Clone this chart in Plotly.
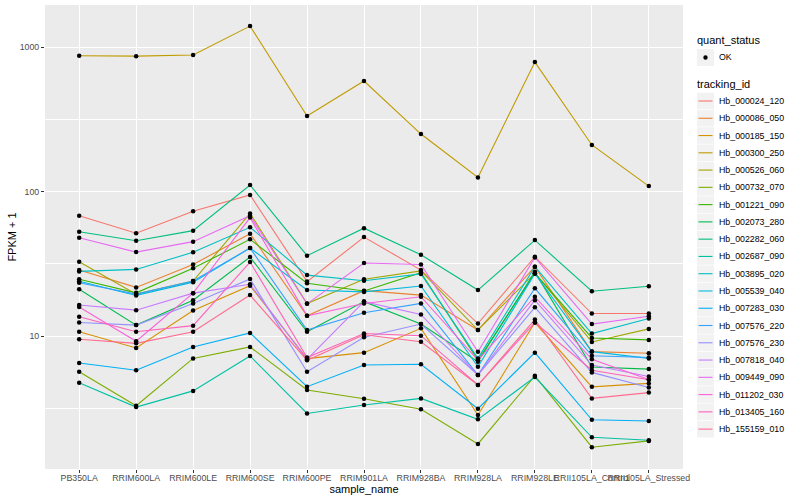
import plotly.graph_objects as go

samples = ["PB350LA", "RRIM600LA", "RRIM600LE", "RRIM600SE", "RRIM600PE", "RRIM901LA",
           "RRIM928BA", "RRIM928LA", "RRIM928LE", "RRII105LA_Control", "RRII105LA_Stressed"]

tracking_ids = ["Hb_000024_120", "Hb_000086_050", "Hb_000185_150", "Hb_000300_250", "Hb_000526_060",
                "Hb_000732_070", "Hb_001221_090", "Hb_002073_280", "Hb_002282_060", "Hb_002687_090",
                "Hb_003895_020", "Hb_005539_040", "Hb_007283_030", "Hb_007576_220", "Hb_007576_230",
                "Hb_007818_040", "Hb_009449_090", "Hb_011202_030", "Hb_013405_160", "Hb_155159_010"]

colors = ["#F8766D", "#EA8331", "#D89000", "#C09B00", "#A3A500", "#7CAE00", "#39B600", "#00BB4E",
          "#00BF7D", "#00C1A3", "#00BFC4", "#00BAE0", "#00B0F6", "#35A2FF", "#9590FF", "#C77CFF",
          "#E76BF3", "#FA62DB", "#FF62BC", "#FF6C91"]

quant_status = ["OK"]

# FPKM + 1 values per tracking id, one value per sample
fpkm = [
    [68.0, 51.4, 73.0, 94.7, 23.8, 48.4, 28.6, 12.2, 35.4, 14.3, 14.3],      # 000024_120
    [28.6, 21.7, 31.3, 51.0, 13.8, 20.6, 19.2, 11.0, 30.2, 7.8, 7.6],        # 000086_050
    [10.7, 8.26, 15.0, 22.3, 6.97, 7.67, 11.3, 2.84, 12.4, 4.45, 4.7],       # 000185_150
    [871, 865, 880, 1396, 333, 582, 250, 125, 787, 210, 109],                # 000300_250
    [32.7, 19.5, 24.0, 70.6, 16.8, 24.7, 28.2, 11.0, 27.2, 9.1, 11.2],       # 000526_060
    [5.66, 3.29, 7.0, 8.4, 4.23, 3.68, 3.11, 1.79, 5.3, 1.70, 1.88],         # 000732_070
    [24.7, 19.9, 29.4, 46.7, 23.2, 20.5, 27.4, 6.8, 27.2, 9.7, 9.4],         # 001221_090
    [21.1, 11.9, 17.7, 35.2, 10.7, 17.3, 12.1, 6.64, 27.8, 6.1, 5.9],        # 002073_280
    [52.7, 45.6, 53.6, 111, 36.0, 55.8, 36.5, 20.8, 46.1, 20.4, 22.1],       # 002282_060
    [4.75, 3.22, 4.17, 7.28, 2.91, 3.33, 3.70, 2.65, 5.2, 1.99, 1.90],       # 002687_090
    [28.0, 28.9, 38.0, 56.5, 26.4, 24.1, 26.9, 7.0, 30.2, 10.4, 13.2],       # 003895_020
    [23.9, 19.1, 23.6, 40.6, 20.8, 20.2, 22.2, 6.13, 27.0, 7.8, 7.0],        # 005539_040
    [6.5, 5.8, 8.4, 10.5, 4.46, 6.3, 6.37, 3.14, 7.67, 2.63, 2.58],          # 007283_030
    [23.4, 19.5, 24.0, 40.6, 11.0, 14.5, 16.8, 5.37, 21.4, 7.3, 7.1],        # 007576_220
    [12.4, 11.9, 16.8, 24.8, 5.66, 9.8, 12.1, 5.37, 15.8, 5.6, 4.4],         # 007576_230
    [16.4, 15.1, 19.8, 22.8, 6.9, 17.3, 14.1, 5.37, 17.7, 6.3, 5.25],        # 007818_040
    [47.9, 38.1, 45.0, 68.0, 16.7, 32.0, 31.3, 7.79, 35.0, 12.1, 13.7],      # 009449_090
    [15.9, 9.2, 19.8, 66.0, 13.8, 16.8, 18.7, 6.8, 18.7, 6.9, 5.0],          # 011202_030
    [13.6, 10.7, 11.8, 32.5, 7.1, 10.4, 10.05, 4.58, 12.4, 5.8, 4.98],       # 013405_160
    [9.5, 8.9, 10.7, 19.2, 6.8, 10.2, 9.13, 4.58, 13.0, 3.7, 4.06],          # 155159_010
]

yticks = [10, 100, 1000]
yminor = [3.1623, 31.623, 316.23]

W, H = 800, 500
ML, MR, MT, MB = 45, 117, 5, 31
PW, PH = W - ML - MR, H - MT - MB


def px_x(px):
    return (px - ML) / PW


def px_y(py):
    return (H - MB - py) / PH


fig = go.Figure()

for tid, col, vals in zip(tracking_ids, colors, fpkm):
    fig.add_trace(go.Scatter(
        x=samples, y=vals, mode="lines", name=tid,
        line=dict(color=col, width=1.1), showlegend=False,
    ))

for tid, vals in zip(tracking_ids, fpkm):
    fig.add_trace(go.Scatter(
        x=samples, y=vals, mode="markers", name=tid,
        marker=dict(color="black", size=4.5), showlegend=False,
    ))

# ggplot-style legend drawn in paper coordinates
shapes = []
annotations = []
key_x0, key_x1, text_x = 697, 714, 717
title_font = dict(family="Liberation Sans", size=11, color="black")
item_font = dict(family="Liberation Sans", size=8.8, color="black")

annotations.append(dict(xref="paper", yref="paper", x=px_x(695), y=px_y(40), text="quant_status",
                        showarrow=False, xanchor="left", yanchor="middle", font=title_font))
ok_y = 57.5
shapes.append(dict(type="rect", xref="paper", yref="paper", x0=px_x(key_x0), x1=px_x(key_x1),
                   y0=px_y(ok_y - 8.5), y1=px_y(ok_y + 8.5), fillcolor="#F2F2F2", line=dict(width=0),
                   layer="below"))
shapes.append(dict(type="circle", xref="paper", yref="paper", x0=px_x(703.3), x1=px_x(707.7),
                   y0=px_y(ok_y - 2.2), y1=px_y(ok_y + 2.2), fillcolor="black", line=dict(width=0)))
annotations.append(dict(xref="paper", yref="paper", x=px_x(text_x), y=px_y(ok_y), text=quant_status[0],
                        showarrow=False, xanchor="left", yanchor="middle", font=item_font))

annotations.append(dict(xref="paper", yref="paper", x=px_x(695), y=px_y(84), text="tracking_id",
                        showarrow=False, xanchor="left", yanchor="middle", font=title_font))
y0, step = 101, 17.27
for i, (tid, col) in enumerate(zip(tracking_ids, colors)):
    yc = y0 + i * step
    shapes.append(dict(type="rect", xref="paper", yref="paper", x0=px_x(key_x0), x1=px_x(key_x1),
                       y0=px_y(yc - 8.3), y1=px_y(yc + 8.3), fillcolor="#F2F2F2", line=dict(width=0),
                       layer="below"))
    shapes.append(dict(type="line", xref="paper", yref="paper", x0=px_x(key_x0 + 1.5), x1=px_x(key_x1 - 1.5),
                       y0=px_y(yc), y1=px_y(yc), line=dict(color=col, width=1.1)))
    annotations.append(dict(xref="paper", yref="paper", x=px_x(text_x), y=px_y(yc), text=tid,
                            showarrow=False, xanchor="left", yanchor="middle", font=item_font))

fig.update_layout(
    width=W, height=H,
    margin=dict(l=ML, r=MR, t=MT, b=MB, autoexpand=False),
    paper_bgcolor="white", plot_bgcolor="#EBEBEB",
    font=dict(family="Liberation Sans", size=11, color="black"),
    showlegend=False,
    shapes=shapes, annotations=annotations,
    xaxis=dict(
        type="category", categoryorder="array", categoryarray=samples,
        showgrid=True, gridcolor="white", gridwidth=1.1,
        ticks="outside", ticklen=3, tickcolor="#333333", tickangle=0,
        tickfont=dict(size=8.8, color="#4D4D4D"), ticklabelstandoff=-3,
        title=dict(text="sample_name", font=dict(size=11), standoff=0),
        zeroline=False, showline=False, range=[-0.6, 10.6],
    ),
    yaxis=dict(
        type="log", range=[0.0796, 3.291],
        tickvals=yticks, ticktext=[str(v) for v in yticks],
        showgrid=True, gridcolor="white", gridwidth=1.1,
        minor=dict(tickvals=yminor, showgrid=True, gridcolor="white", gridwidth=0.5, ticks=""),
        ticks="outside", ticklen=3, tickcolor="#333333",
        tickfont=dict(size=8.8, color="#4D4D4D"),
        title=dict(text="FPKM + 1", font=dict(size=11), standoff=0),
        zeroline=False, showline=False,
    ),
)

fig.write_html("out.html", config={"displayModeBar": False},
               post_script="document.body.style.margin='0';document.body.style.overflow='hidden';")
